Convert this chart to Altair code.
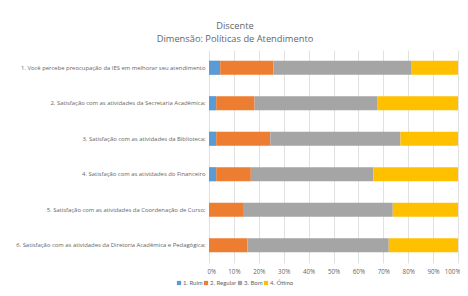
import altair as alt
import pandas as pd

questions = [
    "1. Você percebe preocupação da IES em melhorar seu atendimento",
    "2. Satisfação com as atividades da Secretaria Acadêmica;",
    "3. Satisfação com as atividades da Biblioteca;",
    "4. Satisfação com as atividades do Financeiro",
    "5. Satisfação com as atividades da Coordenação de Curso;",
    "6. Satisfação com as atividades da Diretoria Acadêmica e Pedagógica;",
]
levels = ["1. Ruim", "2. Regular", "3. Bom", "4. Ótimo"]
colors = ["#5B9BD5", "#ED7D31", "#A5A5A5", "#FFC000"]

ruim = [4.5, 2.9, 2.9, 2.9, 0.0, 0.0]
regular = [21.4, 15.4, 21.7, 13.9, 14.0, 15.4]
bom = [55.5, 49.2, 52.3, 49.2, 59.8, 56.8]
otimo = [18.6, 32.5, 23.1, 34.0, 26.2, 27.8]

rows = []
for i, q in enumerate(questions):
    for j, (lvl, vals) in enumerate(zip(levels, [ruim, regular, bom, otimo])):
        rows.append({"q": q, "nivel": lvl, "ordem": j, "valor": vals[i]})
df = pd.DataFrame(rows)

font = "Open Sans"
txt = "#666666"

chart = (
    alt.Chart(df)
    .mark_bar()
    .encode(
        y=alt.Y(
            "q:N",
            sort=questions,
            title=None,
            scale=alt.Scale(paddingInner=0.6, paddingOuter=0.3),
            axis=alt.Axis(
                labelFontSize=5.9,
                labelColor=txt,
                labelFont=font,
                ticks=False,
                domain=False,
                labelPadding=4,
                labelLimit=300,
                minExtent=199,
                maxExtent=199,
            ),
        ),
        x=alt.X(
            "valor:Q",
            stack="normalize",
            title=None,
            scale=alt.Scale(domain=[0, 1]),
            axis=alt.Axis(
                format=".0%",
                values=[i / 10 for i in range(11)],
                labelFontSize=6.2,
                labelColor=txt,
                labelFont=font,
                labelFlush=True,
                labelFlushOffset=2,
                ticks=False,
                domain=False,
                gridColor="#D9D9D9",
                gridWidth=0.8,
                labelPadding=5,
            ),
        ),
        color=alt.Color(
            "nivel:N",
            sort=levels,
            scale=alt.Scale(domain=levels, range=colors),
            legend=alt.Legend(
                title=None,
                orient="none",
                legendX=-33,
                legendY=230,
                direction="horizontal",
                symbolType="square",
                symbolSize=18,
                symbolStrokeWidth=0,
                labelFontSize=6.0,
                labelColor=txt,
                labelFont="Lato",
                columnPadding=0,
                symbolOffset=0,
                labelOffset=1,
            ),
        ),
        order=alt.Order("ordem:Q"),
    )
    .properties(
        width=249,
        height=213,
        padding={"left": 2, "top": 13, "right": 0, "bottom": 0},
        title=alt.TitleParams(
            text=["Discente", "Dimensão: Políticas de Atendimento"],
            fontSize=9.3,
            fontWeight="normal",
            color=txt,
            font=font,
            lineHeight=13,
            offset=6,
            anchor="middle",
            frame="bounds",
        ),
    )
    .configure_view(strokeWidth=0)
)

chart.save("out.html", embed_options={"renderer": "svg", "actions": False})
